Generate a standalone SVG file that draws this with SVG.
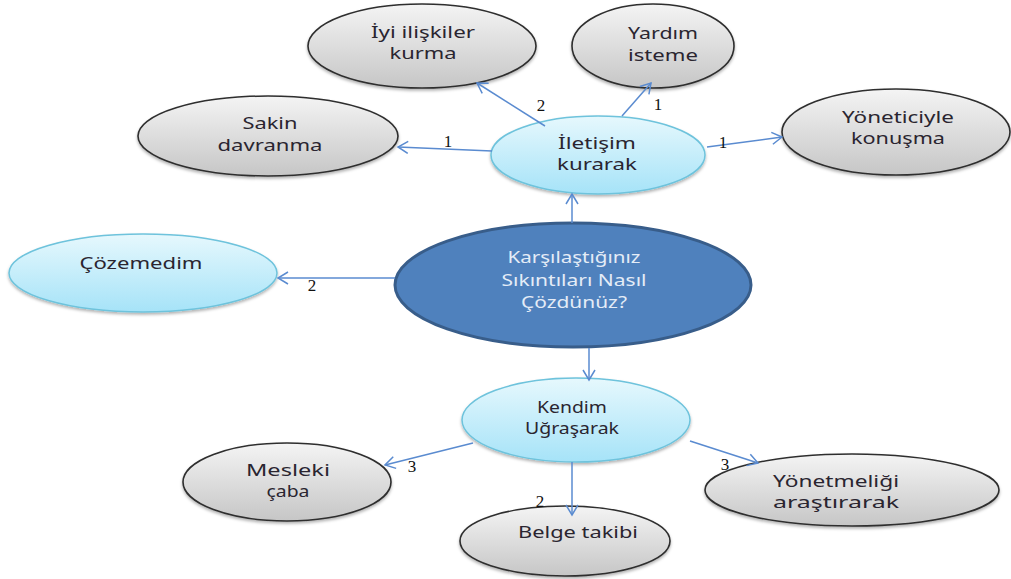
<svg xmlns="http://www.w3.org/2000/svg" width="1011" height="579" viewBox="0 0 1011 579">
  <defs>
    <linearGradient id="gGray" x1="0" y1="0" x2="0" y2="1">
      <stop offset="0" stop-color="#f4f4f4"/>
      <stop offset="1" stop-color="#c6c6c6"/>
    </linearGradient>
    <linearGradient id="gBlue" x1="0" y1="0" x2="0" y2="1">
      <stop offset="0" stop-color="#e6f8fd"/>
      <stop offset="1" stop-color="#a6e3f8"/>
    </linearGradient>
    <filter id="sh" x="-10%" y="-10%" width="120%" height="130%">
      <feDropShadow dx="0" dy="2" stdDeviation="1.5" flood-color="#000" flood-opacity="0.3"/>
    </filter>
    <marker id="arr" markerUnits="userSpaceOnUse" markerWidth="14" markerHeight="14" viewBox="-12 -7 14 14" refX="0" refY="0" orient="auto">
      <path d="M-10,-6 L0,0 L-10,6" fill="none" stroke="#5a8bd0" stroke-width="1.5"/>
    </marker>
    <style>
      .gray { fill: url(#gGray); stroke: #2e2e2e; stroke-width: 1.6; filter: url(#sh); }
      .blue { fill: url(#gBlue); stroke: #6ec3dc; stroke-width: 1.5; filter: url(#sh); }
      .main { fill: #4f81bd; stroke: #385d8a; stroke-width: 3; }
      .t { font-family: "Noto Sans", "Open Sans", sans-serif; font-size: 16px; fill: #2a2530; text-anchor: middle; }
      .tw { font-family: "Noto Sans", "Open Sans", sans-serif; font-size: 16px; fill: #e4ecf7; text-anchor: middle; }
      .c { fill: none; stroke: #5a8bd0; stroke-width: 1.5; marker-end: url(#arr); }
      .n { font-family: "Liberation Serif", serif; font-size: 17px; fill: #111; text-anchor: middle; }
    </style>
  </defs>

  <g id="iyi-iliskiler">
    <ellipse class="gray" cx="422" cy="46" rx="114" ry="42"/>
    <text class="t" x="423" y="38" textLength="104" lengthAdjust="spacingAndGlyphs">İyi ilişkiler</text>
    <text class="t" x="423" y="59" textLength="67" lengthAdjust="spacingAndGlyphs">kurma</text>
  </g>

  <g id="yardim-isteme">
    <ellipse class="gray" cx="653" cy="46" rx="81" ry="42"/>
    <text class="t" x="663" y="39" textLength="70" lengthAdjust="spacingAndGlyphs">Yardım</text>
    <text class="t" x="663" y="61" textLength="70" lengthAdjust="spacingAndGlyphs">isteme</text>
  </g>

  <g id="sakin-davranma">
    <ellipse class="gray" cx="268" cy="136" rx="130" ry="40"/>
    <text class="t" x="270" y="129" textLength="55" lengthAdjust="spacingAndGlyphs">Sakin</text>
    <text class="t" x="270" y="151" textLength="105" lengthAdjust="spacingAndGlyphs">davranma</text>
  </g>

  <g id="yoneticiyle-konusma">
    <ellipse class="gray" cx="896" cy="132" rx="114" ry="43"/>
    <text class="t" x="898" y="123" textLength="112" lengthAdjust="spacingAndGlyphs">Yöneticiyle</text>
    <text class="t" x="898" y="144" textLength="94" lengthAdjust="spacingAndGlyphs">konuşma</text>
  </g>

  <g id="iletisim-kurarak">
    <ellipse class="blue" cx="598" cy="155" rx="107" ry="39"/>
    <text class="t" x="597" y="149" textLength="78" lengthAdjust="spacingAndGlyphs">İletişim</text>
    <text class="t" x="597" y="170" textLength="80" lengthAdjust="spacingAndGlyphs">kurarak</text>
  </g>

  <g id="cozemedim">
    <ellipse class="blue" cx="143" cy="273" rx="134" ry="39"/>
    <text class="t" x="141" y="269" textLength="123" lengthAdjust="spacingAndGlyphs">Çözemedim</text>
  </g>

  <g id="merkez">
    <ellipse class="main" cx="573" cy="285" rx="178" ry="62"/>
    <text class="tw" x="574" y="263" textLength="133" lengthAdjust="spacingAndGlyphs">Karşılaştığınız</text>
    <text class="tw" x="574" y="286" textLength="145" lengthAdjust="spacingAndGlyphs">Sıkıntıları  Nasıl</text>
    <text class="tw" x="574" y="308" textLength="106" lengthAdjust="spacingAndGlyphs">Çözdünüz?</text>
  </g>

  <g id="kendim-ugrasarak">
    <ellipse class="blue" cx="576" cy="420" rx="114" ry="42"/>
    <text class="t" x="572" y="413" textLength="70" lengthAdjust="spacingAndGlyphs">Kendim</text>
    <text class="t" x="572" y="434" textLength="94" lengthAdjust="spacingAndGlyphs">Uğraşarak</text>
  </g>

  <g id="mesleki-caba">
    <ellipse class="gray" cx="287" cy="482" rx="104" ry="39"/>
    <text class="t" x="288" y="476" textLength="84" lengthAdjust="spacingAndGlyphs">Mesleki</text>
    <text class="t" x="288" y="497" textLength="43" lengthAdjust="spacingAndGlyphs">çaba</text>
  </g>

  <g id="belge-takibi">
    <ellipse class="gray" cx="565" cy="541" rx="105" ry="35"/>
    <text class="t" x="578" y="538" textLength="120" lengthAdjust="spacingAndGlyphs">Belge takibi</text>
  </g>

  <g id="yonetmeligi-arastirarak">
    <ellipse class="gray" cx="852" cy="490" rx="147" ry="36"/>
    <text class="t" x="836" y="487" textLength="126" lengthAdjust="spacingAndGlyphs">Yönetmeliği</text>
    <text class="t" x="836" y="508" textLength="126" lengthAdjust="spacingAndGlyphs">araştırarak</text>
  </g>

  <g id="connectors">
    <line class="c" x1="572" y1="223" x2="572" y2="194"/>
    <line class="c" x1="492" y1="151" x2="398" y2="147"/>
    <line class="c" x1="545" y1="126" x2="477" y2="83"/>
    <line class="c" x1="622" y1="116" x2="651" y2="83"/>
    <line class="c" x1="707" y1="147" x2="782" y2="137"/>
    <line class="c" x1="395" y1="278" x2="278" y2="278"/>
    <line class="c" x1="589" y1="348" x2="589" y2="380"/>
    <line class="c" x1="473" y1="443" x2="385" y2="465"/>
    <line class="c" x1="572" y1="462" x2="572" y2="515"/>
    <line class="c" x1="690" y1="441" x2="758" y2="463"/>
    <text class="n" x="448" y="147">1</text>
    <text class="n" x="541" y="111">2</text>
    <text class="n" x="658" y="110">1</text>
    <text class="n" x="723" y="148">1</text>
    <text class="n" x="312" y="291">2</text>
    <text class="n" x="412" y="472">3</text>
    <text class="n" x="540" y="507">2</text>
    <text class="n" x="725" y="470">3</text>
  </g>
</svg>
